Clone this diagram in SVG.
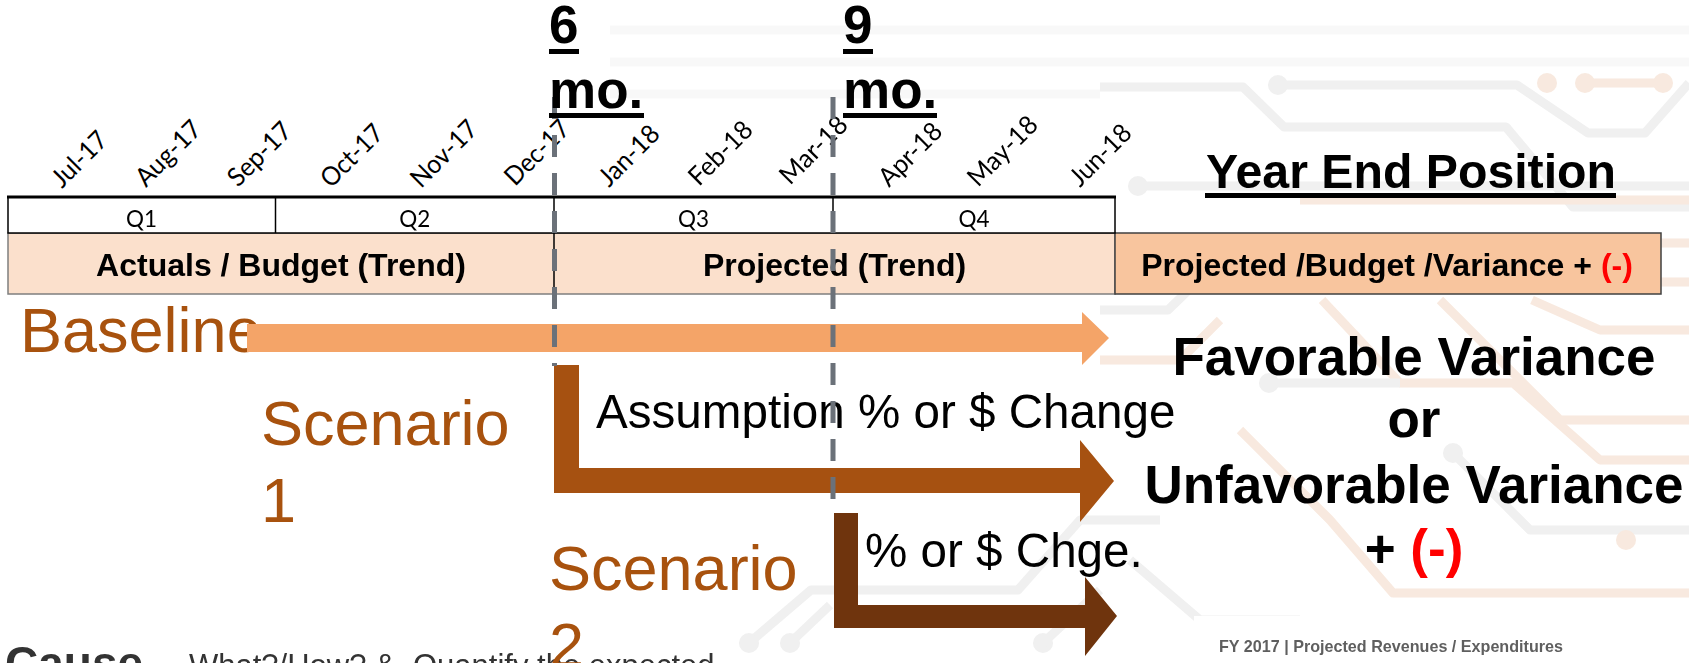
<svg xmlns="http://www.w3.org/2000/svg" width="1689" height="663" viewBox="0 0 1689 663">
<style>
.bgg{fill:none;stroke:#EBEBEB;stroke-width:9;stroke-linejoin:round}
.bgp{fill:none;stroke:#F6E2D4;stroke-width:9;stroke-linejoin:round}
.bgc{fill:#EBEBEB}
.bgcp{fill:#F6E2D4}
.mon{font-family:Lato,"Open Sans","Liberation Sans",sans-serif;font-size:26px;fill:#000}
.q{font-family:Lato,"Open Sans","Liberation Sans",sans-serif;font-size:24px;fill:#000;text-anchor:middle}
.hdr{font-family:"Liberation Sans",Arial,sans-serif;font-weight:bold;font-size:32px;fill:#000;text-anchor:middle}
.scn{font-family:"Liberation Sans",Arial,sans-serif;font-size:63px;fill:#A8520E}
.chg{font-family:"Liberation Sans",Arial,sans-serif;font-size:47.6px;fill:#000}
.mo{font-family:"Liberation Sans",Arial,sans-serif;font-weight:bold;font-size:53px;fill:#000}
.res{font-family:"Liberation Sans",Arial,sans-serif;font-weight:bold;font-size:53px;fill:#000;text-anchor:middle}
.red{fill:#FF0000}
.dash{stroke:#6B7179;stroke-width:5;stroke-dasharray:22 16;fill:none}
.ul{fill:#000}
</style>

<g id="background" opacity="0.75">
  <path class="bgg" d="M610 30 H1689 M610 62 H1689 M610 94 H1100" opacity="0.45"/>
  <path class="bgg" d="M1100 87 H1243 L1284 127 H1506 L1573 207 H1689"/>
  <circle class="bgc" cx="1278" cy="85" r="10"/>
  <path class="bgg" d="M1278 85 H1517 L1588 133 H1645 L1689 83"/>
  <circle class="bgcp" cx="1547" cy="83" r="10"/>
  <circle class="bgcp" cx="1585" cy="83" r="10"/>
  <circle class="bgcp" cx="1663" cy="83" r="10"/>
  <path class="bgp" d="M1585 83 H1663"/>
  <circle class="bgc" cx="1138" cy="186" r="10"/>
  <path class="bgg" d="M1138 186 H1689"/>
  <path class="bgp" d="M1300 200 H1689"/>
  <path class="bgp" d="M1661 243 H1689 M1661 282 H1689"/>
  <path class="bgg" d="M1100 310 H1168 L1230 250 H1660"/>
  <path class="bgp" d="M1322 300 L1400 383 H1513 L1600 460 H1689"/>
  <circle class="bgc" cx="1269" cy="383" r="10"/>
  <path class="bgg" d="M1269 383 H1400"/>
  <path class="bgp" d="M1532 300 L1600 330 H1689"/>
  <path class="bgp" d="M1440 300 L1560 420 H1689"/>
  <circle class="bgc" cx="1453" cy="453" r="10"/>
  <path class="bgg" d="M1453 453 L1530 530 H1689"/>
  <circle class="bgcp" cx="1626" cy="540" r="10"/>
  <path class="bgp" d="M1240 430 L1330 520 L1393 593 H1689"/>
  <path class="bgg" d="M1130 560 L1200 620 H1300"/>
  <path class="bgg" d="M749 643 L811 590 H1018 L1080 520 H1160"/>
  <circle class="bgc" cx="749" cy="643" r="10"/>
  <circle class="bgc" cx="790" cy="643" r="10"/>
  <path class="bgg" d="M790 643 L830 605"/>
  <circle class="bgc" cx="1043" cy="643" r="10"/>
  <path class="bgg" d="M1043 643 L1100 590"/>
  <path class="bgp" d="M1100 360 H1180 L1220 320"/>
</g>

<g id="footer-box">
  <rect x="1194" y="616" width="495" height="47" fill="#FFFFFF"/>
  <text x="1219" y="652" font-family="'Liberation Sans',Arial,sans-serif" font-weight="bold" font-size="16.5" fill="#5F5F5F" textLength="344" lengthAdjust="spacingAndGlyphs">FY 2017 | Projected Revenues / Expenditures</text>
</g>

<g id="bottom-note">
  <text font-family="'Liberation Sans',Arial,sans-serif" fill="#333333"><tspan x="5" y="679" font-weight="bold" font-size="46">Cause</tspan><tspan x="189" y="676" font-size="31">What?/How?</tspan><tspan x="375" y="676" font-size="31">&amp;</tspan><tspan x="413" y="676" font-size="31">Quantify the expected</tspan></text>
</g>

<g id="months">
  <text class="mon" transform="translate(62,189) rotate(-45)" textLength="67" lengthAdjust="spacingAndGlyphs">Jul-17</text>
  <text class="mon" transform="translate(146,188) rotate(-45)" textLength="81" lengthAdjust="spacingAndGlyphs">Aug-17</text>
  <text class="mon" transform="translate(238,188) rotate(-45)" textLength="78.5" lengthAdjust="spacingAndGlyphs">Sep-17</text>
  <text class="mon" transform="translate(331,189) rotate(-45)" textLength="76.7" lengthAdjust="spacingAndGlyphs">Oct-17</text>
  <text class="mon" transform="translate(421,189) rotate(-45)" textLength="82.5" lengthAdjust="spacingAndGlyphs">Nov-17</text>
  <text class="mon" transform="translate(515,187) rotate(-45)" textLength="80" lengthAdjust="spacingAndGlyphs">Dec-17</text>
  <text class="mon" transform="translate(609,188) rotate(-45)" textLength="74" lengthAdjust="spacingAndGlyphs">Jan-18</text>
  <text class="mon" transform="translate(699,187) rotate(-45)" textLength="78.5" lengthAdjust="spacingAndGlyphs">Feb-18</text>
  <text class="mon" transform="translate(790,186) rotate(-45)" textLength="84" lengthAdjust="spacingAndGlyphs">Mar-18</text>
  <text class="mon" transform="translate(889,188) rotate(-45)" textLength="77.6" lengthAdjust="spacingAndGlyphs">Apr-18</text>
  <text class="mon" transform="translate(978,188) rotate(-45)" textLength="87" lengthAdjust="spacingAndGlyphs">May-18</text>
  <text class="mon" transform="translate(1080,188) rotate(-45)" textLength="75.3" lengthAdjust="spacingAndGlyphs">Jun-18</text>
</g>

<g id="table">
  <rect x="8" y="233" width="1107" height="61" fill="#FBE0CC" stroke="#7F7F7F" stroke-width="1.5"/>
  <rect x="1115" y="233" width="546" height="61" fill="#F8C59E" stroke="#404040" stroke-width="1.5"/>
  <rect x="8" y="197" width="1107" height="36" fill="#FFFFFF" stroke="#000" stroke-width="1.5"/>
  <line x1="7" y1="197" x2="1116" y2="197" stroke="#000" stroke-width="3"/>
  <line x1="275.5" y1="197" x2="275.5" y2="233" stroke="#000" stroke-width="1.5"/>
  <line x1="554" y1="197" x2="554" y2="294" stroke="#000" stroke-width="1.5"/>
  <line x1="833" y1="197" x2="833" y2="233" stroke="#000" stroke-width="1.5"/>
  <text class="q" x="141.6" y="227" textLength="31" lengthAdjust="spacingAndGlyphs">Q1</text>
  <text class="q" x="414.8" y="227" textLength="31" lengthAdjust="spacingAndGlyphs">Q2</text>
  <text class="q" x="693.5" y="227" textLength="31" lengthAdjust="spacingAndGlyphs">Q3</text>
  <text class="q" x="974" y="227" textLength="31" lengthAdjust="spacingAndGlyphs">Q4</text>
  <text class="hdr" x="281" y="276">Actuals / Budget (Trend)</text>
  <text class="hdr" x="834.5" y="276">Projected (Trend)</text>
  <text class="hdr" x="1387" y="276">Projected /Budget /Variance + <tspan class="red">(-)</tspan></text>
</g>

<g id="year-end">
  <text x="1206" y="188" font-family="'Liberation Sans',Arial,sans-serif" font-weight="bold" font-size="49" textLength="410" lengthAdjust="spacingAndGlyphs">Year End Position</text>
  <rect class="ul" x="1205" y="193" width="411" height="5"/>
</g>

<g id="result">
  <text class="res" x="1414" y="375">Favorable Variance</text>
  <text class="res" x="1414" y="437">or</text>
  <text class="res" x="1414" y="503">Unfavorable Variance</text>
  <text class="res" x="1414" y="567">+ <tspan class="red">(-)</tspan></text>
</g>

<g id="baseline">
  <text class="scn" x="20" y="352">Baseline</text>
  <polygon fill="#F4A468" points="247,324 1082,324 1082,312 1109,338 1082,365 1082,352 247,352"/>
</g>

<g id="scenario1">
  <text class="scn" x="261" y="445">Scenario</text>
  <text class="scn" x="261" y="522">1</text>
  <polygon fill="#A65111" points="554,365 579,365 579,468 1080,468 1080,440 1114,481 1080,522 1080,493 554,493"/>
  <text class="chg" x="596" y="428">Assumption % or $ Change</text>
</g>

<g id="scenario2">
  <text class="scn" x="549" y="590">Scenario</text>
  <text class="scn" x="549" y="667">2</text>
  <polygon fill="#6F340D" points="834,513 858,513 858,605 1085,605 1085,577 1117,616 1085,656 1085,628 834,628"/>
  <text class="chg" x="865" y="567">% or $ Chge.</text>
</g>

<g id="connectors">
  <line class="dash" x1="554.5" y1="97" x2="554.5" y2="366"/>
  <line class="dash" x1="833" y1="97" x2="833" y2="499"/>
</g>

<g id="milestone-6">
  <text class="mo" x="549" y="43">6</text>
  <rect class="ul" x="549" y="49" width="30" height="5"/>
  <text class="mo" x="549" y="108">mo.</text>
  <rect class="ul" x="549" y="113" width="95" height="5"/>
</g>

<g id="milestone-9">
  <text class="mo" x="843" y="43">9</text>
  <rect class="ul" x="843" y="49" width="30" height="5"/>
  <text class="mo" x="843" y="108">mo.</text>
  <rect class="ul" x="843" y="113" width="94" height="5"/>
</g>
</svg>
